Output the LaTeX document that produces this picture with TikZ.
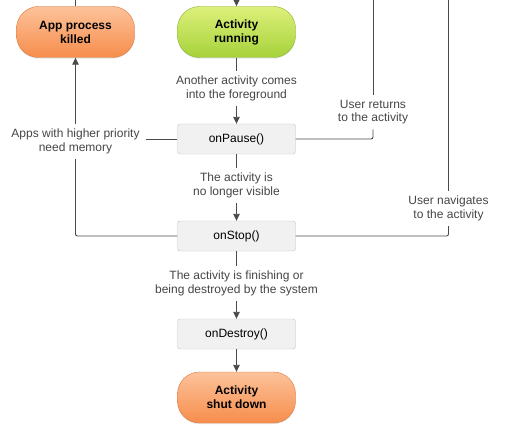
\documentclass[tikz,border=0pt]{standalone}
\usepackage{fontspec}
\setmainfont{Liberation Sans}
\usetikzlibrary{arrows.meta,shadows}
\definecolor{linec}{HTML}{4A4A4A}
\definecolor{txtc}{HTML}{454545}
\definecolor{boxfill}{HTML}{F1F1F1}
\definecolor{boxline}{HTML}{C2C2C2}
\definecolor{orgtop}{HTML}{FDC29A}
\definecolor{orgbot}{HTML}{F68D4C}
\definecolor{orgline}{HTML}{D9773E}
\definecolor{grntop}{HTML}{DDF07A}
\definecolor{grnbot}{HTML}{A6D23A}
\definecolor{grnline}{HTML}{8CB232}
\tikzset{
  statebox/.style={rounded corners=22pt, minimum width=118pt, minimum height=51pt,
    align=center, font=\fontsize{12}{14}\selectfont\bfseries, text=black,
    drop shadow={opacity=0.18, shadow xshift=0pt, shadow yshift=-1.2pt}},
  orangebox/.style={statebox, draw=orgline, top color=orgtop, bottom color=orgbot},
  greenbox/.style={statebox, draw=grnline, top color=grntop, bottom color=grnbot},
  callbox/.style={draw=boxline, fill=boxfill, rounded corners=2.5pt, minimum width=118pt,
    minimum height=30pt, font=\fontsize{12}{14}\selectfont, text=black},
  lbl/.style={align=center, font=\fontsize{12}{13.5}\selectfont, text=txtc,
    inner xsep=6pt, inner ysep=5pt},
  conn/.style={draw=linec, line width=0.9pt},
  arr/.style={conn, -{Triangle[length=7pt,width=6.5pt]}}
}
\begin{document}
\begin{tikzpicture}[x=1pt,y=-1pt]
\useasboundingbox (0,0) rectangle (513,433);
\node[orangebox] (kill) at (75.5,32) {App process\\killed};
\node[greenbox] (run) at (236.5,32) {Activity\\running};
\node[callbox] (pause) at (236.5,139) {onPause()};
\node[callbox] (stop) at (236.5,236) {onStop()};
\node[callbox] (destroy) at (236.5,334) {onDestroy()};
\node[orangebox] (shut) at (236.5,397.5) {Activity\\shut down};

\node[lbl] (l1) at (236.5,88.5) {Another activity comes\\into the foreground};
\node[lbl] (l2) at (236.5,185.5) {The activity is\\no longer visible};
\node[lbl] (l3) at (236.5,283.5) {The activity is finishing or\\being destroyed by the system};
\node[lbl] (l4) at (75.5,141.5) {Apps with higher priority\\need memory};
\node[lbl] (l5) at (373,112) {User returns\\to the activity};
\node[lbl] (l6) at (448.5,208.5) {User navigates\\to the activity};

\coordinate (topin) at (236.5,0);
\coordinate (topkill) at (75.5,0);
\coordinate (topret) at (373,0);
\coordinate (topnav) at (448.5,0);

\draw[arr] (topin) -- (run.north);
\draw[conn] (kill.north) -- (topkill);
\draw[conn] (run.south) -- (l1.north);
\draw[arr] (l1.south) -- (pause.north);
\draw[conn] (pause.south) -- (l2.north);
\draw[arr] (l2.south) -- (stop.north);
\draw[conn] (stop.south) -- (l3.north);
\draw[arr] (l3.south) -- (destroy.north);
\draw[arr] (destroy.south) -- (shut.north);

\draw[conn] (pause.west) -- (l4.east |- pause.west);
\draw[conn, rounded corners=2pt] (stop.west) -| (l4.south);
\draw[arr] (l4.north) -- (kill.south);

\draw[conn, rounded corners=2pt] (pause.east) -| (l5.south);
\draw[conn] (l5.north) -- (topret);
\draw[conn, rounded corners=2pt] (stop.east) -| (l6.south);
\draw[conn] (l6.north) -- (topnav);
\end{tikzpicture}
\end{document}
